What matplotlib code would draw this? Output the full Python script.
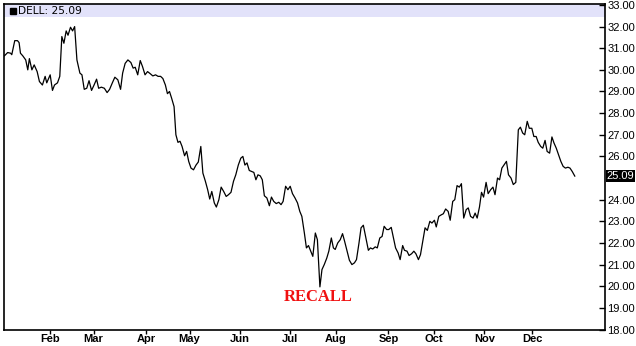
import matplotlib
matplotlib.use("Agg")
import matplotlib.pyplot as plt
from matplotlib.patches import Rectangle
from matplotlib.transforms import blended_transform_factory

# DELL daily close (x = trading day of the year)
day = [0, 1.4, 2.7, 3.2, 4.5, 5.7, 6.4, 7, 8, 9.3, 10.2, 10.9, 12, 13, 14.3, 15.3, 16.6, 17.8,
       18.5, 20, 21, 21.9, 23.2, 24.2, 25.1, 26, 27, 27.8, 28.9, 29.8, 30.7, 31.7, 33, 33.9,
       34.9, 36, 37, 38.1, 39.2, 40.3, 41.2, 42.4, 43.7, 44.9, 46, 47.2, 48.3, 49.6, 50.8,
       51.7, 52.8, 54, 55.3, 56.3, 57.2, 58.3, 59.4, 60.4, 61.5, 62.6, 63.8, 64.9, 66.1,
       67.2, 68.3, 69.3, 70.4, 71.3, 72.2, 73.1, 74.2, 75, 75.9, 76.8, 77.7, 78.8, 79.7,
       80.6, 81.6, 82.7, 83.8, 84.8, 85.9, 86.8, 87.9, 88.9, 89.8, 90.7, 91.8, 92.7, 93.8,
       94.8, 95.9, 97, 98, 99.1, 100.2, 101.2, 102.3, 103.4, 104.3, 105.2, 106.1, 107.1,
       108.2, 109.1, 110, 110.9, 111.9, 112.8, 113.7, 114.8, 115.9, 116.8, 117.8, 118.9,
       120, 121, 121.9, 123, 124, 125, 126, 127.1, 128.2, 129.2, 130.1, 131.2, 132.1, 133,
       134, 134.9, 136, 136.9, 138, 138.9, 139.9, 141, 141.9, 143, 143.9, 144.7, 145.8,
       146.9, 147.9, 148.8, 149.9, 150.9, 152, 153.1, 154, 155.1, 156, 157, 158.1, 159.2,
       160.1, 161.1, 162.2, 163.1, 164.2, 165.2, 166.1, 167.2, 168.1, 169.2, 170.2, 171.1,
       172.2, 173.1, 174.2, 175, 176.1, 177, 178.1, 179.1, 180, 181.1, 182, 183.1, 184, 185,
       186.1, 187, 188.1, 188.9, 190, 191.1, 192, 193, 194.1, 195, 196.1, 197, 198, 199,
       199.9, 200.9, 202, 202.9, 203.9, 205, 205.9, 206.8, 207.8, 208.7, 209.6, 210.7, 211.6,
       212.7, 213.7, 214.6, 215.7, 216.6, 217.6, 218.5, 219.6, 220.5, 221.6, 222.6, 223.7,
       224.8, 225.7, 226.7, 227.6, 228.7, 229.6, 230.7, 231.6, 232.6, 233.5, 234.6, 235.5,
       236.5, 237.4, 238.5, 239.5, 240.4, 241.4, 242.4, 243.4, 244.4, 245.4, 246.5, 247.4,
       248.4, 249.5]
close = [30.65, 30.8, 30.77, 30.7, 31.35, 31.35, 31.26, 30.77, 30.65, 30.46, 30.0, 30.52,
         30.0, 30.23, 29.92, 29.46, 29.3, 29.7, 29.4, 29.77, 29.05, 29.3, 29.4, 29.7, 31.54,
         31.23, 31.8, 31.6, 31.97, 31.8, 32.0, 30.46, 29.85, 29.77, 29.1, 29.15, 29.5, 29.05,
         29.3, 29.57, 29.15, 29.2, 29.15, 28.95, 29.1, 29.4, 29.66, 29.54, 29.1, 29.85, 30.3,
         30.46, 30.34, 30.08, 30.12, 29.77, 30.43, 30.15, 29.77, 29.92, 29.82, 29.72, 29.77,
         29.7, 29.7, 29.6, 29.3, 28.9, 29.0, 28.7, 28.3, 27.0, 26.65, 26.7, 26.46, 26.03,
         26.23, 25.77, 25.46, 25.38, 25.6, 25.74, 26.46, 25.23, 24.85, 24.46, 24.03, 24.38,
         23.85, 23.66, 24.0, 24.58, 24.38, 24.15, 24.23, 24.34, 24.85, 25.15, 25.6, 25.92,
         26.0, 25.6, 25.7, 25.35, 25.3, 25.26, 24.92, 25.15, 25.1, 24.92, 24.18, 24.08, 23.72,
         24.12, 23.92, 23.82, 23.88, 23.77, 23.92, 24.62, 24.46, 24.62, 24.28, 24.08, 23.85,
         23.46, 23.23, 22.46, 21.77, 21.88, 21.62, 21.38, 22.46, 22.15, 19.97, 20.77, 21.0,
         21.3, 21.62, 22.23, 21.77, 21.7, 22.0, 22.15, 22.43, 22.08, 21.62, 21.2, 21.0, 21.08,
         21.23, 22.0, 22.7, 22.82, 22.23, 21.66, 21.77, 21.72, 21.82, 21.77, 22.23, 22.3,
         22.77, 22.62, 22.62, 22.72, 22.23, 21.77, 21.54, 21.23, 21.88, 21.66, 21.62, 21.42,
         21.5, 21.62, 21.5, 21.23, 21.46, 22.15, 22.7, 22.58, 23.0, 22.92, 23.05, 22.74, 23.23,
         23.3, 23.35, 23.57, 23.46, 23.05, 23.92, 24.0, 24.65, 24.58, 24.74, 23.15, 23.54,
         23.62, 23.23, 23.15, 23.38, 23.15, 23.66, 24.34, 24.12, 24.8, 24.28, 24.46, 24.58,
         24.23, 25.0, 24.92, 25.46, 25.6, 25.77, 25.15, 25.0, 24.7, 24.8, 27.23, 27.35, 27.08,
         27.0, 27.62, 27.3, 27.3, 26.92, 26.92, 26.65, 26.46, 26.38, 26.74, 26.23, 26.15, 26.9,
         26.62, 26.38, 26.08, 25.77, 25.54, 25.46, 25.5, 25.46, 25.3, 25.09]

# first trading day of each month
month_days = [20, 39, 62, 81, 103, 125, 145, 168, 188, 210, 231]
month_labels = ["Feb", "Mar", "Apr", "May", "Jun", "Jul", "Aug", "Sep", "Oct", "Nov", "Dec"]
price_ticks = [18, 19, 20, 21, 22, 23, 24, 26, 27, 28, 29, 30, 31, 32, 33]
last_price = 25.09


def main():
    fig = plt.figure(figsize=(6.36, 3.46), dpi=100)
    ax = fig.add_axes([4 / 636, 16.5 / 346, 600.5 / 636, 325.2 / 346])

    ax.plot(day, close, color="black", linewidth=0.9)
    ax.set_xlim(-0.2, 262.5)
    ax.set_ylim(18, 33.03)

    # header band with the ticker
    ax.add_patch(Rectangle((0, 1 - 0.038), 1, 0.038, transform=ax.transAxes,
                           facecolor="#e2e2fa", edgecolor="none", zorder=0))
    ax.plot([0.0142], [0.9805], "s", color="black", markersize=5, transform=ax.transAxes)
    ax.text(0.0235, 0.9805, "DELL: %.2f" % last_price, transform=ax.transAxes,
            fontsize=7.7, va="center", ha="left", family="DejaVu Sans")

    ax.text(137.3, 19.48, "RECALL", color="#f01010", fontsize=12, fontweight="bold",
            family="Liberation Serif", ha="center", va="center")

    ax.set_xticks(month_days)
    ax.set_xticklabels(month_labels, fontweight="bold", fontsize=8, family="Liberation Sans")
    ax.tick_params(axis="x", direction="out", length=3, width=1, pad=0.5)

    ax.yaxis.tick_right()
    ax.set_yticks(price_ticks)
    ax.set_yticklabels(["%.2f" % t for t in price_ticks], fontsize=8, family="Liberation Sans")
    ax.tick_params(axis="y", direction="in", length=4, width=1, pad=2)

    trans = blended_transform_factory(ax.transAxes, ax.transData)
    ax.text(1.004, last_price, "%.2f" % last_price, transform=trans, color="white",
            fontsize=8, family="Liberation Sans", va="center", ha="left",
            bbox=dict(boxstyle="square,pad=0.08", facecolor="black", edgecolor="none"))

    for s in ax.spines.values():
        s.set_linewidth(1.2)

    fig.savefig("out.png", dpi=100)


if __name__ == "__main__":
    main()
